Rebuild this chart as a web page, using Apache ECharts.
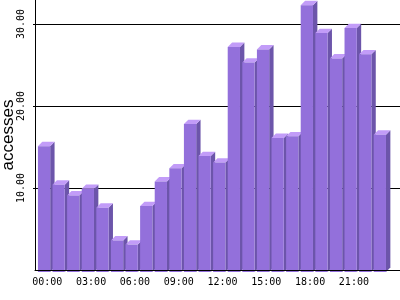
<!DOCTYPE html>
<html>
<head>
<meta charset="utf-8">
<script src="https://cdn.jsdelivr.net/npm/echarts@6/dist/echarts.min.js"></script>
<style>html,body{margin:0;padding:0;background:#fff}#c{width:400px;height:300px}</style>
</head>
<body>
<div id="c"></div>
<script>
const hours = ['00:00','01:00','02:00','03:00','04:00','05:00','06:00','07:00','08:00','09:00','10:00','11:00',
               '12:00','13:00','14:00','15:00','16:00','17:00','18:00','19:00','20:00','21:00','22:00','23:00'];
const accesses = [15.1, 10.4, 9.1, 9.9, 7.6, 3.6, 3.1, 7.8, 10.8, 12.4, 17.8, 13.9,
                  13.1, 27.2, 25.3, 26.9, 16.1, 16.3, 32.3, 28.9, 25.8, 29.5, 26.3, 16.5];
const yMax = 32.93;

const FRONT = '#9370db', SIDE = '#6c55aa', TOP = '#c29cf8';
const chart = echarts.init(document.getElementById('c'), null, {renderer: 'canvas'});
const axisCats = hours.concat(['']);
chart.setOption({
  animation: false,
  grid: {left: 35, right: 0, top: 0, bottom: 30, containLabel: false, outerBoundsMode: 'none'},
  xAxis: {
    type: 'category', data: axisCats, boundaryGap: true, z: 5,
    axisLine: {lineStyle: {color: '#000', width: 1}},
    axisTick: {show: false},
    axisLabel: {interval: 2, color: '#000', fontFamily: 'DejaVu Sans Mono', fontSize: 10, margin: 7, padding: [0, 0, 0, 10]},
    splitLine: {show: false}
  },
  yAxis: {
    type: 'value', min: 0, max: yMax, interval: 10, z: 0,
    name: 'accesses', nameLocation: 'middle', nameRotate: 90, nameGap: 18, nameMoveOverlap: false,
    nameTextStyle: {color: '#000', fontFamily: 'Liberation Sans', fontSize: 17},
    axisLine: {show: true, lineStyle: {color: '#000', width: 1}},
    axisTick: {show: true, length: 2, lineStyle: {color: '#000'}},
    axisLabel: {rotate: 90, color: '#000', fontFamily: 'DejaVu Sans Mono', fontSize: 10, margin: 9,
                showMinLabel: false, showMaxLabel: false, formatter: v => v.toFixed(2)},
    splitLine: {show: true, showMinLine: false, showMaxLine: false, lineStyle: {color: '#000', width: 1}}
  },
  series: [{
    type: 'custom', z: 2,
    data: accesses.map((v, i) => [i, v]),
    encode: {x: 0, y: 1},
    renderItem: function (params, api) {
      const i = api.value(0), v = api.value(1);
      const base = api.coord([i, 0]);
      const top = api.coord([i, v]);
      const bw = api.size([1, 0])[0];
      const x0 = base[0] - bw / 2 + bw * 0.2;
      const w = bw * 0.84;
      const d = bw * 0.3;
      const yb = base[1] + 2;
      const yt = top[1];
      return {
        type: 'group',
        children: [
          {type: 'polygon', shape: {points: [[x0 + w, yt], [x0 + w + d, yt - d], [x0 + w + d, yb - d], [x0 + w, yb]]}, style: {fill: SIDE}},
          {type: 'polygon', shape: {points: [[x0, yt], [x0 + d, yt - d], [x0 + w + d, yt - d], [x0 + w, yt]]}, style: {fill: TOP}},
          {type: 'rect', shape: {x: x0, y: yt, width: w, height: yb - yt}, style: {fill: FRONT}}
        ]
      };
    }
  }]
});
</script>
</body>
</html>
